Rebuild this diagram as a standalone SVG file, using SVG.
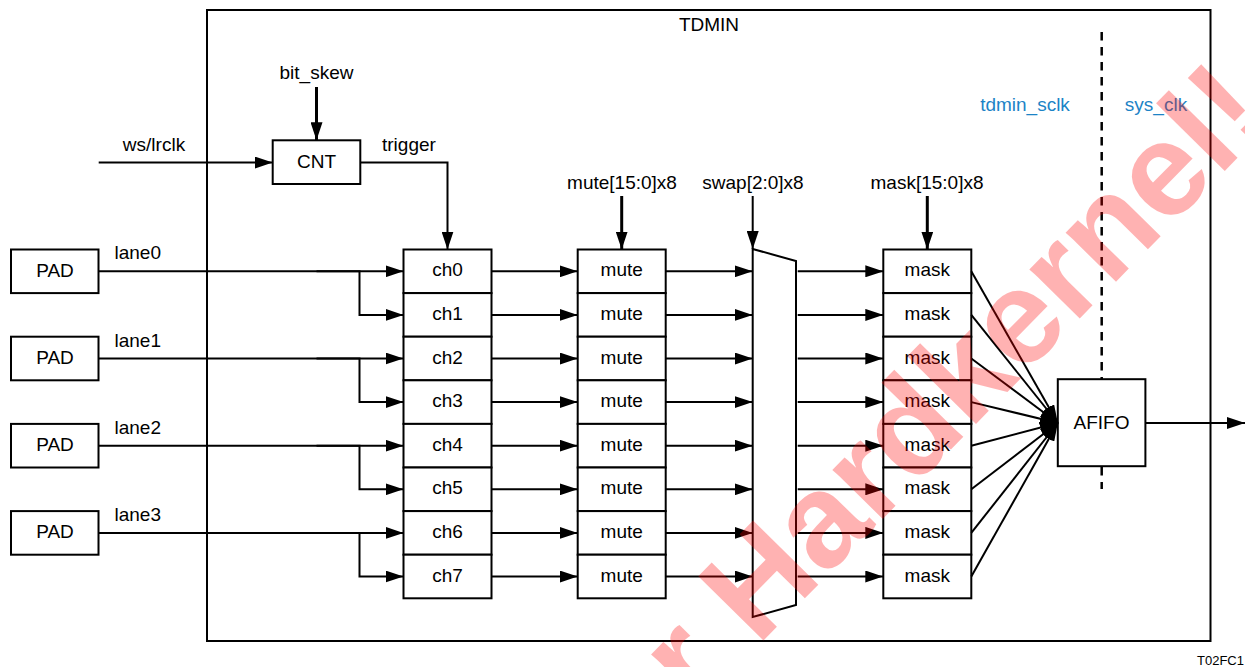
<svg xmlns="http://www.w3.org/2000/svg" width="1245" height="667" viewBox="0 0 1245 667">
<style>
.box{fill:#fff;stroke:#000;stroke-width:2}
.t{font-family:"Liberation Sans",Arial,sans-serif;font-size:19px;fill:#000}
.c{text-anchor:middle}
.blue{fill:#1c83c6}
.ln{fill:none;stroke:#000;stroke-width:2}
.thick{stroke-width:3}
.arr{marker-end:url(#ah)}
.wm{font-family:"Liberation Sans",Arial,sans-serif;font-weight:bold;font-size:133px;fill:#ff0000;fill-opacity:0.3}
</style>
<defs>
<marker id="ah" markerUnits="userSpaceOnUse" markerWidth="18" markerHeight="12" refX="18" refY="6" orient="auto">
<path d="M0,0 L18,6 L0,12 z" fill="#000"/>
</marker>
</defs>
<rect width="1245" height="667" fill="#fff"/>
<g id="tdmin">
<rect x="207" y="10" width="1003.5" height="631" fill="none" stroke="#000" stroke-width="2"/>
<text class="t c" x="709" y="31">TDMIN</text>
</g>
<g id="clock-domains">
<line x1="1101.7" y1="32" x2="1101.7" y2="489" stroke="#000" stroke-width="2.5" stroke-dasharray="8.5,6.5"/>
<text class="t c blue" x="1025" y="111">tdmin_sclk</text>
<text class="t c blue" x="1156" y="111">sys_clk</text>
</g>
<g id="pads">
<g id="pad0"><rect class="box" x="11" y="249.5" width="87.5" height="43.6"/><text class="t c" x="55" y="276.5">PAD</text></g>
<g id="pad1"><rect class="box" x="11" y="336.7" width="87.5" height="43.6"/><text class="t c" x="55" y="363.7">PAD</text></g>
<g id="pad2"><rect class="box" x="11" y="423.9" width="87.5" height="43.6"/><text class="t c" x="55" y="450.9">PAD</text></g>
<g id="pad3"><rect class="box" x="11" y="511.1" width="87.5" height="43.6"/><text class="t c" x="55" y="538.1">PAD</text></g>
</g>
<g id="cnt">
<rect class="box" x="272.7" y="140.3" width="87.6" height="43.7"/>
<text class="t c" x="316.5" y="168">CNT</text>
</g>
<g id="channels">
<g id="ch0"><rect class="box" x="403.5" y="249.5" width="88" height="43.6"/><text class="t c" x="447.5" y="276.3">ch0</text></g>
<g id="ch1"><rect class="box" x="403.5" y="293.1" width="88" height="43.6"/><text class="t c" x="447.5" y="319.9">ch1</text></g>
<g id="ch2"><rect class="box" x="403.5" y="336.7" width="88" height="43.6"/><text class="t c" x="447.5" y="363.5">ch2</text></g>
<g id="ch3"><rect class="box" x="403.5" y="380.3" width="88" height="43.6"/><text class="t c" x="447.5" y="407.1">ch3</text></g>
<g id="ch4"><rect class="box" x="403.5" y="423.9" width="88" height="43.6"/><text class="t c" x="447.5" y="450.7">ch4</text></g>
<g id="ch5"><rect class="box" x="403.5" y="467.5" width="88" height="43.6"/><text class="t c" x="447.5" y="494.3">ch5</text></g>
<g id="ch6"><rect class="box" x="403.5" y="511.1" width="88" height="43.6"/><text class="t c" x="447.5" y="537.9">ch6</text></g>
<g id="ch7"><rect class="box" x="403.5" y="554.7" width="88" height="43.6"/><text class="t c" x="447.5" y="581.5">ch7</text></g>
</g>
<g id="mutes">
<g id="mute0"><rect class="box" x="577.7" y="249.5" width="88" height="43.6"/><text class="t c" x="621.7" y="276.3">mute</text></g>
<g id="mute1"><rect class="box" x="577.7" y="293.1" width="88" height="43.6"/><text class="t c" x="621.7" y="319.9">mute</text></g>
<g id="mute2"><rect class="box" x="577.7" y="336.7" width="88" height="43.6"/><text class="t c" x="621.7" y="363.5">mute</text></g>
<g id="mute3"><rect class="box" x="577.7" y="380.3" width="88" height="43.6"/><text class="t c" x="621.7" y="407.1">mute</text></g>
<g id="mute4"><rect class="box" x="577.7" y="423.9" width="88" height="43.6"/><text class="t c" x="621.7" y="450.7">mute</text></g>
<g id="mute5"><rect class="box" x="577.7" y="467.5" width="88" height="43.6"/><text class="t c" x="621.7" y="494.3">mute</text></g>
<g id="mute6"><rect class="box" x="577.7" y="511.1" width="88" height="43.6"/><text class="t c" x="621.7" y="537.9">mute</text></g>
<g id="mute7"><rect class="box" x="577.7" y="554.7" width="88" height="43.6"/><text class="t c" x="621.7" y="581.5">mute</text></g>
</g>
<g id="swap">
<polygon class="box" points="752.7,249 796,261 796,605 752.7,617"/>
</g>
<g id="masks">
<g id="mask0"><rect class="box" x="883.3" y="249.5" width="88" height="43.6"/><text class="t c" x="927.3" y="276.3">mask</text></g>
<g id="mask1"><rect class="box" x="883.3" y="293.1" width="88" height="43.6"/><text class="t c" x="927.3" y="319.9">mask</text></g>
<g id="mask2"><rect class="box" x="883.3" y="336.7" width="88" height="43.6"/><text class="t c" x="927.3" y="363.5">mask</text></g>
<g id="mask3"><rect class="box" x="883.3" y="380.3" width="88" height="43.6"/><text class="t c" x="927.3" y="407.1">mask</text></g>
<g id="mask4"><rect class="box" x="883.3" y="423.9" width="88" height="43.6"/><text class="t c" x="927.3" y="450.7">mask</text></g>
<g id="mask5"><rect class="box" x="883.3" y="467.5" width="88" height="43.6"/><text class="t c" x="927.3" y="494.3">mask</text></g>
<g id="mask6"><rect class="box" x="883.3" y="511.1" width="88" height="43.6"/><text class="t c" x="927.3" y="537.9">mask</text></g>
<g id="mask7"><rect class="box" x="883.3" y="554.7" width="88" height="43.6"/><text class="t c" x="927.3" y="581.5">mask</text></g>
</g>
<g id="afifo">
<rect class="box" x="1057.8" y="379.2" width="87.6" height="87"/>
<text class="t c" x="1101.5" y="428.5">AFIFO</text>
</g>
<g id="connectors">
<path class="ln arr" d="M98.7,162.5 H272.7"/>
<path class="ln arr thick" d="M316.5,87 V140.3"/>
<path class="ln arr" d="M360.3,162.5 H447.5 V249.5"/>
<path class="ln arr thick" d="M621.7,196 V249.5"/>
<path class="ln arr" d="M752.7,196 V249"/>
<path class="ln arr thick" d="M927.3,196 V249.5"/>
<path class="ln arr" d="M98.5,271.3 H403.5"/>
<path class="ln arr" d="M316.5,271.3 H359.5 V314.9 H403.5"/>
<path class="ln arr" d="M98.5,358.5 H403.5"/>
<path class="ln arr" d="M316.5,358.5 H359.5 V402.1 H403.5"/>
<path class="ln arr" d="M98.5,445.7 H403.5"/>
<path class="ln arr" d="M316.5,445.7 H359.5 V489.3 H403.5"/>
<path class="ln arr" d="M98.5,532.9 H403.5"/>
<path class="ln arr" d="M316.5,532.9 H359.5 V576.5 H403.5"/>
<path class="ln arr" d="M491.5,271.3 H577.7"/>
<path class="ln arr" d="M491.5,314.9 H577.7"/>
<path class="ln arr" d="M491.5,358.5 H577.7"/>
<path class="ln arr" d="M491.5,402.1 H577.7"/>
<path class="ln arr" d="M491.5,445.7 H577.7"/>
<path class="ln arr" d="M491.5,489.3 H577.7"/>
<path class="ln arr" d="M491.5,532.9 H577.7"/>
<path class="ln arr" d="M491.5,576.5 H577.7"/>
<path class="ln arr" d="M665.7,271.3 H752.7"/>
<path class="ln arr" d="M665.7,314.9 H752.7"/>
<path class="ln arr" d="M665.7,358.5 H752.7"/>
<path class="ln arr" d="M665.7,402.1 H752.7"/>
<path class="ln arr" d="M665.7,445.7 H752.7"/>
<path class="ln arr" d="M665.7,489.3 H752.7"/>
<path class="ln arr" d="M665.7,532.9 H752.7"/>
<path class="ln arr" d="M665.7,576.5 H752.7"/>
<path class="ln arr" d="M797.7,271.3 H883.3"/>
<path class="ln arr" d="M797.7,314.9 H883.3"/>
<path class="ln arr" d="M797.7,358.5 H883.3"/>
<path class="ln arr" d="M797.7,402.1 H883.3"/>
<path class="ln arr" d="M797.7,445.7 H883.3"/>
<path class="ln arr" d="M797.7,489.3 H883.3"/>
<path class="ln arr" d="M797.7,532.9 H883.3"/>
<path class="ln arr" d="M797.7,576.5 H883.3"/>
<path class="ln arr" d="M971.3,271.3 L1057.8,423"/>
<path class="ln arr" d="M971.3,314.9 L1057.8,423"/>
<path class="ln arr" d="M971.3,358.5 L1057.8,423"/>
<path class="ln arr" d="M971.3,402.1 L1057.8,423"/>
<path class="ln arr" d="M971.3,445.7 L1057.8,423"/>
<path class="ln arr" d="M971.3,489.3 L1057.8,423"/>
<path class="ln arr" d="M971.3,532.9 L1057.8,423"/>
<path class="ln arr" d="M971.3,576.5 L1057.8,423"/>
<path class="ln arr" d="M1145.4,423 H1245"/>
</g>
<g id="labels">
<text class="t c" x="316.5" y="79">bit_skew</text>
<text class="t c" x="154" y="150.5">ws/lrclk</text>
<text class="t" x="382" y="150.5">trigger</text>
<text class="t c" x="622" y="188.5">mute[15:0]x8</text>
<text class="t c" x="753" y="188.5">swap[2:0]x8</text>
<text class="t c" x="927" y="188.5">mask[15:0]x8</text>
<text class="t" x="114.5" y="259">lane0</text>
<text class="t" x="114.5" y="346.5">lane1</text>
<text class="t" x="114.5" y="434">lane2</text>
<text class="t" x="114.5" y="521">lane3</text>
<text class="t" x="1244" y="664.5" style="font-size:13px;text-anchor:end">T02FC1</text>
</g>
<text class="wm" transform="translate(695,710) rotate(-45.5)">r Hardkernel!</text>
</svg>
